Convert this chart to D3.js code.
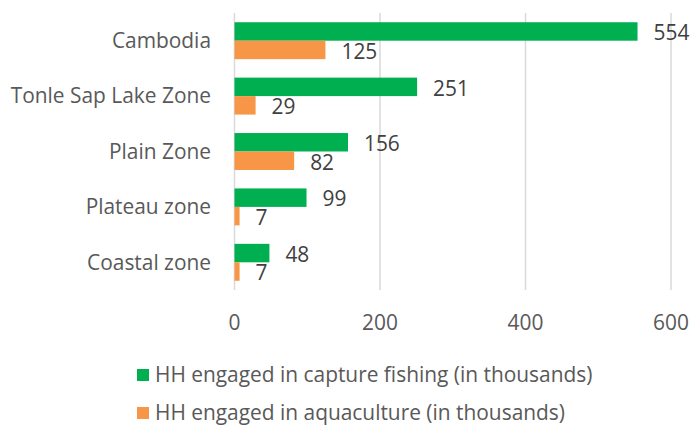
<!DOCTYPE html>
<html>
<head>
    <meta charset="utf-8">
    <title>HH engaged in fishing</title>
    <script src="https://cdn.jsdelivr.net/npm/d3@7"></script>
    <style>
        body { margin: 0; background: #fff; }
        text { font-family: "Open Sans", sans-serif; }
    </style>
</head>
<body>
    <div id="chart"></div>
    <script>
        // data
        const zones = ["Cambodia", "Tonle Sap Lake Zone", "Plain Zone", "Plateau zone", "Coastal zone"];
        const captureFishing = [554, 251, 156, 99, 48];
        const aquaculture = [125, 29, 82, 7, 7];
        const xTicks = [0, 200, 400, 600];
        const seriesNames = ["HH engaged in capture fishing (in thousands)", "HH engaged in aquaculture (in thousands)"];
        const seriesColors = ["#00B050", "#F79646"];

        const width = 691, height = 433;
        const plot = { left: 234.5, right: 671, top: 13, bottom: 290 };
        const fontSize = 20.9;

        const svg = d3.select("#chart").append("svg")
            .attr("width", width)
            .attr("height", height);

        const x = d3.scaleLinear().domain([0, 600]).range([plot.left, plot.right]);
        const y = d3.scaleBand().domain(zones).range([plot.top, plot.bottom]).paddingInner(0).paddingOuter(0);
        const sub = d3.scaleBand().domain([0, 1]).range([0, y.bandwidth()]).paddingInner(0).paddingOuter(0.5);

        // gridlines
        svg.append("g")
            .selectAll("line")
            .data(xTicks)
            .enter().append("line")
            .attr("x1", d => x(d))
            .attr("x2", d => x(d))
            .attr("y1", plot.top)
            .attr("y2", plot.bottom)
            .attr("stroke", "#D9D9D9")
            .attr("stroke-width", 1.5);

        // tick labels
        svg.append("g")
            .selectAll("text")
            .data(xTicks)
            .enter().append("text")
            .attr("x", d => x(d))
            .attr("y", 323)
            .attr("dy", "0.35em")
            .attr("text-anchor", "middle")
            .attr("font-size", fontSize)
            .attr("fill", "#595959")
            .text(d => d);

        // category labels
        svg.append("g")
            .selectAll("text")
            .data(zones)
            .enter().append("text")
            .attr("x", 211)
            .attr("y", d => y(d) + y.bandwidth() / 2)
            .attr("dy", "0.35em")
            .attr("text-anchor", "end")
            .attr("font-size", fontSize)
            .attr("fill", "#595959")
            .text(d => d);

        const series = [captureFishing, aquaculture];

        series.forEach((vals, si) => {
            const g = svg.append("g");
            g.selectAll("rect")
                .data(vals)
                .enter().append("rect")
                .attr("x", x(0))
                .attr("y", (d, i) => y(zones[i]) + sub(si))
                .attr("width", d => x(d) - x(0))
                .attr("height", sub.bandwidth())
                .attr("fill", seriesColors[si]);

            g.selectAll("text")
                .data(vals)
                .enter().append("text")
                .attr("x", d => x(d) + 16)
                .attr("y", (d, i) => y(zones[i]) + sub(si) + sub.bandwidth() / 2 + 1.5)
                .attr("dy", "0.35em")
                .attr("font-size", fontSize)
                .attr("fill", "#404040")
                .text(d => d);
        });

        // legend
        const legend = svg.append("g")
            .selectAll("g")
            .data(seriesNames)
            .enter().append("g")
            .attr("transform", (d, i) => `translate(137, ${375 + i * 38})`);

        legend.append("rect")
            .attr("x", 0)
            .attr("y", -6)
            .attr("width", 12)
            .attr("height", 12)
            .attr("fill", (d, i) => seriesColors[i]);

        legend.append("text")
            .attr("x", 18)
            .attr("y", 0)
            .attr("dy", "0.35em")
            .attr("font-size", fontSize)
            .attr("fill", "#595959")
            .text(d => d);
    </script>
</body>
</html>
